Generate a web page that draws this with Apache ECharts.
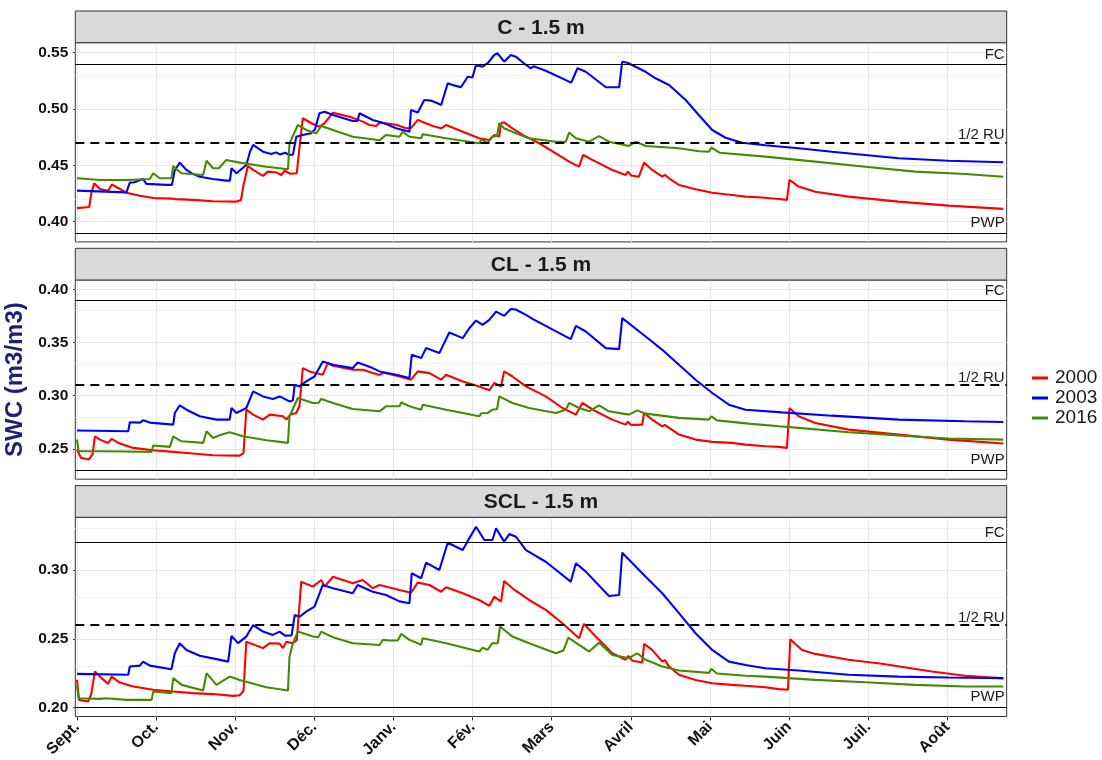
<!DOCTYPE html>
<html>
<head>
<meta charset="utf-8">
<script src="https://cdn.jsdelivr.net/npm/echarts@6/dist/echarts.min.js"></script>
<style>html,body{margin:0;padding:0;background:#fff}#c{width:1102px;height:760px}</style>
</head>
<body>
<div id="c"></div>
<script>
// ---------------- DATA ----------------
const panelTitles = ['C - 1.5 m', 'CL - 1.5 m', 'SCL - 1.5 m'];
const years = ['2000', '2003', '2016'];
const monthLabels = ['Sept.','Oct.','Nov.','Déc.','Janv.','Fév.','Mars','Avril','Mai','Juin','Juil.','Août'];
const monthDays = [0, 30.42, 60.83, 91.25, 121.67, 152.08, 182.5, 212.92, 243.33, 273.75, 304.17, 334.58];
const yMajorTicks = [[0.40,0.45,0.50,0.55],[0.25,0.30,0.35,0.40],[0.20,0.25,0.30]];
const yMinorTicks = [[0.425,0.475,0.525],[0.275,0.325,0.375],[0.225,0.275,0.325]];
const yRanges = [[0.382,0.5589],[0.2215,0.4087],[0.1935,0.3383]];
const FC  = [0.54, 0.39, 0.32];
const RU  = [0.465, 0.31, 0.26];
const PWP = [0.39, 0.23, 0.20];

const C_2000 = [[0,0.412],[4.7,0.413],[5.5,0.425],[6.6,0.434],[8.8,0.429],[12,0.4275],[13.4,0.433],[16.5,0.429],[19,0.4257],[24.2,0.423],[29.3,0.421],[36.3,0.4204],[37,0.4215],[38,0.42],[44.6,0.4193],[52.3,0.4181],[61.3,0.4178],[63,0.419],[64,0.432],[65.7,0.4494],[67.7,0.4459],[71.5,0.4406],[73.4,0.4444],[76.6,0.4437],[78.5,0.4414],[79.8,0.4452],[82,0.4425],[84.5,0.443],[85.5,0.465],[86.8,0.4918],[90.7,0.4867],[93.2,0.4843],[95,0.487],[98.4,0.4967],[104.8,0.4932],[109.9,0.4888],[112.4,0.4858],[115,0.4849],[116.3,0.4879],[122.7,0.486],[126.5,0.4829],[128.4,0.483],[131,0.4903],[136.7,0.485],[140,0.4829],[141.9,0.4858],[148.3,0.4799],[154.6,0.474],[158.5,0.4725],[160.4,0.477],[162.3,0.4755],[163,0.4873],[164.2,0.4882],[167.4,0.4829],[171.3,0.477],[177.7,0.4696],[184.1,0.4607],[189.2,0.4533],[193,0.4488],[194.6,0.4592],[199.4,0.4533],[205.8,0.4459],[210.9,0.4414],[211.8,0.4444],[213,0.441],[216,0.4399],[218,0.4524],[221.1,0.4459],[225,0.4399],[226,0.4415],[227.6,0.4385],[231.4,0.4326],[237.8,0.4287],[244.2,0.4257],[251.8,0.4237],[257,0.4222],[262.1,0.4217],[269.8,0.4201],[272.9,0.4193],[273.9,0.437],[277.4,0.4311],[283.8,0.4266],[296.6,0.4222],[315.8,0.4178],[335,0.4142],[356.1,0.4113]];
const C_2003 = [[0,0.4275],[19,0.426],[20.3,0.4346],[22,0.435],[25.4,0.4379],[26.7,0.4335],[34.4,0.4326],[36.5,0.4326],[37.5,0.445],[39.5,0.4524],[42.1,0.4459],[44,0.443],[47.2,0.4399],[52.3,0.4379],[57.4,0.4364],[58.8,0.4364],[59.4,0.4474],[61.3,0.443],[65.1,0.4503],[66.5,0.462],[67.7,0.4681],[71.5,0.4621],[74.7,0.4601],[76.5,0.4615],[78,0.4597],[80,0.4612],[81.7,0.4592],[83,0.4595],[84.3,0.4754],[86.8,0.477],[90,0.4785],[91.5,0.482],[93.2,0.4962],[95.2,0.4976],[98.4,0.4947],[106,0.4894],[107.8,0.4894],[108.6,0.4962],[113.7,0.4903],[117.5,0.4879],[122.7,0.4829],[127.8,0.4799],[128.4,0.4991],[131,0.497],[133.5,0.508],[136,0.5075],[138.6,0.5051],[140,0.5036],[142.5,0.5228],[145,0.521],[147.6,0.5193],[150.2,0.5287],[152,0.528],[153.4,0.5391],[155.9,0.5376],[158,0.541],[160.4,0.548],[161.7,0.5495],[164.2,0.542],[166.8,0.548],[168.7,0.5465],[172.6,0.5391],[174.5,0.5362],[175.5,0.538],[180.2,0.534],[189.2,0.5243],[190,0.5235],[192.4,0.5362],[195.6,0.5331],[203.3,0.5193],[208.4,0.5193],[209.6,0.542],[211.6,0.5411],[218.6,0.5331],[222.4,0.5273],[227.6,0.5213],[234,0.508],[239.1,0.4945],[244.2,0.4814],[249.3,0.4745],[255.7,0.4701],[264.6,0.4678],[277.4,0.4651],[290.2,0.4621],[303,0.4592],[315.8,0.4563],[335,0.4541],[356.1,0.4527]];
const C_2016 = [[0,0.4385],[9,0.437],[19,0.437],[28,0.4379],[29.3,0.443],[31.8,0.4385],[36.3,0.4385],[37,0.4494],[38.5,0.446],[40.2,0.443],[48.5,0.4414],[49.8,0.4541],[52.3,0.4474],[54.5,0.4474],[57.4,0.4548],[62.5,0.4524],[72.8,0.4488],[81.1,0.4465],[81.7,0.4696],[84.9,0.4858],[88.1,0.4814],[92,0.4785],[93.9,0.4849],[98.4,0.4814],[106,0.4754],[116.3,0.4722],[118.8,0.477],[124,0.4754],[125.2,0.4799],[127.8,0.4754],[132.3,0.474],[132.9,0.4776],[141.9,0.474],[154.6,0.4696],[155.5,0.473],[157.8,0.4696],[159.7,0.4754],[161.5,0.476],[162.3,0.4873],[164.2,0.4829],[168.7,0.4785],[173.8,0.474],[184.1,0.471],[187.9,0.471],[189.2,0.479],[191.8,0.474],[196.9,0.471],[200.7,0.476],[204.5,0.471],[212.2,0.4672],[214.8,0.471],[218.6,0.4672],[231.4,0.4651],[239.1,0.4625],[242.9,0.4621],[243.9,0.4657],[247,0.4612],[264.6,0.4577],[283.8,0.4533],[303,0.4488],[322.2,0.4444],[341.4,0.4423],[356.1,0.4399]];

const CL_2000 = [[0,0.2495],[1.5,0.2416],[4.5,0.24],[6,0.245],[6.9,0.2618],[8.8,0.2587],[12,0.2556],[13.3,0.2594],[16.5,0.255],[21.6,0.2509],[29.3,0.2487],[37,0.2472],[44.6,0.2456],[52.3,0.244],[62.5,0.2437],[64,0.246],[65.1,0.2868],[67.7,0.2822],[71.5,0.2775],[74.1,0.2822],[79.2,0.2806],[80.5,0.2775],[82,0.2822],[84.3,0.2837],[85.5,0.29],[86.8,0.3259],[89.4,0.3228],[94.5,0.3197],[96.4,0.3306],[98.4,0.3281],[106,0.3243],[109.9,0.3243],[113.7,0.3212],[116.3,0.3195],[118,0.3215],[124,0.318],[128.4,0.315],[131,0.3228],[135.5,0.3212],[140,0.315],[141.9,0.3197],[148.3,0.3134],[154.6,0.3087],[158.5,0.305],[160.4,0.3119],[163,0.3087],[164.2,0.3228],[167.4,0.318],[172.6,0.3087],[180.2,0.2993],[186.6,0.2884],[191.8,0.2822],[194.3,0.2931],[199.4,0.2853],[205.8,0.2775],[210.9,0.2728],[211.8,0.2755],[213,0.2725],[217.3,0.2728],[218,0.2837],[221.1,0.2775],[225,0.2712],[226,0.2725],[231.4,0.2634],[237.8,0.2587],[244.2,0.2566],[251.8,0.2556],[257,0.254],[264.6,0.2524],[269.8,0.2519],[272.9,0.2509],[273.9,0.2884],[277.4,0.2806],[283.8,0.2744],[296.6,0.2681],[315.8,0.2634],[335,0.2587],[356.1,0.255]];
const CL_2003 = [[0,0.2672],[19.7,0.2665],[20.3,0.275],[24.2,0.2747],[25.4,0.2768],[28,0.2747],[37,0.2728],[37.6,0.2837],[39.5,0.2909],[42.1,0.2868],[47.2,0.2806],[53.6,0.2775],[58.7,0.2775],[59.4,0.2884],[61.3,0.2837],[65.1,0.2884],[67.7,0.304],[71.5,0.2993],[75.3,0.2969],[77.9,0.2993],[81.7,0.2946],[83,0.2955],[83.7,0.3103],[85.6,0.3087],[88.1,0.3134],[91.3,0.318],[94.5,0.3321],[98.4,0.329],[106,0.3259],[107.9,0.3312],[113.7,0.3259],[116.3,0.3228],[122.7,0.3197],[127.8,0.3166],[128.7,0.3384],[132.3,0.3353],[134.2,0.3447],[139.3,0.34],[143.1,0.3593],[148.3,0.3541],[150.8,0.3634],[153.4,0.3706],[155.9,0.3665],[158.5,0.3712],[161.1,0.379],[164.2,0.375],[166.8,0.3815],[168.7,0.381],[172.6,0.3759],[175.1,0.3722],[180.2,0.3656],[189.8,0.3531],[191.8,0.3656],[195.6,0.3603],[203.3,0.3447],[208.4,0.3437],[209.6,0.3728],[218.6,0.3556],[225,0.3431],[231.4,0.329],[237.8,0.315],[244.2,0.3025],[250.6,0.2915],[257,0.2868],[271,0.2843],[290.2,0.2812],[315.8,0.2775],[341.4,0.2759],[356.1,0.2753]];
const CL_2016 = [[0,0.2587],[0.6,0.2478],[9,0.2478],[19,0.2475],[28.7,0.2472],[29.3,0.2531],[35.7,0.2519],[37,0.2618],[40.2,0.2571],[48.5,0.2556],[49.8,0.2665],[52.3,0.2603],[55,0.263],[58.7,0.2656],[63.8,0.2618],[72.8,0.2581],[81.1,0.2556],[81.7,0.2806],[84.9,0.2978],[90.7,0.2931],[92.8,0.2931],[93.9,0.2969],[98.4,0.2931],[106,0.2875],[116.3,0.2853],[118.8,0.29],[124,0.29],[124.6,0.2937],[127.8,0.29],[132.3,0.2868],[132.9,0.2915],[141.9,0.2868],[154.6,0.2806],[155.5,0.2835],[157.8,0.2837],[159.7,0.2868],[161.5,0.2875],[162.3,0.2993],[167.4,0.2931],[173.8,0.2884],[184.1,0.2837],[187.9,0.2868],[189.2,0.2931],[193,0.2884],[196.9,0.2853],[200.7,0.2909],[204.5,0.2853],[212.2,0.2822],[215.4,0.2862],[218.6,0.2831],[231.4,0.2791],[242.9,0.2775],[243.9,0.2806],[246,0.2768],[258.2,0.2737],[269.8,0.2712],[277.4,0.2697],[296.6,0.2656],[315.8,0.2625],[335,0.2597],[356.1,0.2587]];

const SCL_2000 = [[0,0.2201],[0.8,0.2056],[4.3,0.2044],[5.5,0.21],[6.9,0.2262],[8.8,0.2225],[12,0.2172],[13.3,0.2225],[16.5,0.2182],[21.6,0.2153],[29.3,0.2129],[37,0.2117],[44.6,0.2105],[52.3,0.2098],[60,0.2085],[62.5,0.209],[64,0.212],[65.1,0.2479],[71.5,0.2432],[74.1,0.2468],[77.9,0.2465],[79.2,0.2432],[80.5,0.2479],[83,0.2468],[84.5,0.249],[86.2,0.2915],[90.7,0.2879],[93.9,0.2927],[95.2,0.2879],[98.4,0.2951],[106,0.2903],[109.9,0.2927],[113.7,0.2867],[116.3,0.2891],[124,0.2855],[128.4,0.2835],[131,0.2908],[135.5,0.2891],[140,0.2842],[141.9,0.2874],[148.3,0.2831],[154.6,0.2782],[158.5,0.2739],[160.4,0.2806],[163,0.277],[164.2,0.292],[167.4,0.2867],[173.8,0.2782],[180.2,0.271],[186.6,0.2613],[193,0.2504],[194.9,0.2608],[199.4,0.2516],[205.8,0.2395],[210.9,0.2347],[212,0.2375],[213.5,0.234],[217.3,0.2327],[218,0.2463],[221.1,0.2419],[225,0.2334],[226,0.2345],[227.6,0.2298],[231.4,0.2238],[237.8,0.2201],[244.2,0.2177],[251.8,0.2165],[257,0.2158],[264.6,0.2148],[269.8,0.2134],[273.3,0.2129],[274.2,0.2497],[278.7,0.2419],[283.8,0.239],[296.6,0.2347],[309.4,0.2318],[328.6,0.2262],[341.4,0.2231],[356.1,0.2212]];
const SCL_2003 = [[0,0.2245],[19.7,0.2238],[20.3,0.2298],[24.2,0.2305],[25.4,0.2334],[28,0.2305],[36.3,0.2279],[37.6,0.2395],[39.5,0.2468],[42.1,0.2419],[47.2,0.2376],[53.6,0.2352],[58.1,0.2334],[59.4,0.2521],[61.9,0.2468],[65.1,0.2516],[67.7,0.26],[71.5,0.2552],[75.3,0.2528],[77.9,0.2552],[80,0.2523],[82.5,0.2525],[83.7,0.2673],[85.6,0.266],[88.1,0.2697],[91.3,0.2734],[94.5,0.2891],[98.4,0.2867],[106,0.2831],[107.9,0.2891],[113.7,0.2842],[118.8,0.2818],[124,0.2772],[127.8,0.2758],[128.7,0.2976],[132.3,0.294],[134.2,0.3053],[139.3,0.30],[142.5,0.3198],[148.3,0.3145],[150.8,0.323],[153.4,0.3314],[156.6,0.3218],[159.7,0.3218],[161.1,0.3303],[164.2,0.3206],[166.2,0.3261],[168.7,0.3242],[172.6,0.3145],[180.2,0.306],[189.8,0.2915],[191.8,0.3049],[195.6,0.2988],[204.5,0.2811],[208.4,0.2818],[209.6,0.3126],[218.6,0.2951],[225,0.2831],[231.4,0.2686],[237.8,0.254],[244.2,0.2419],[250.6,0.2334],[257,0.231],[264.6,0.2286],[277.4,0.2269],[296.6,0.2238],[315.8,0.2225],[335,0.2218],[356.1,0.2214]];
const SCL_2016 = [[0,0.216],[0.6,0.2068],[9,0.2063],[11,0.2068],[19,0.2056],[28.7,0.2056],[29.3,0.2117],[36.3,0.2105],[37,0.2214],[40.2,0.2165],[48.5,0.2124],[49.8,0.225],[53.6,0.2165],[58.7,0.2225],[62.5,0.2201],[72.8,0.2148],[81.1,0.2124],[81.7,0.237],[83,0.2468],[84.9,0.2552],[90.7,0.2516],[92.8,0.2512],[93.9,0.2552],[98.4,0.2511],[106,0.2468],[116.3,0.2455],[117.6,0.2492],[120.1,0.2487],[123.3,0.2487],[124.6,0.2535],[127.8,0.2492],[132.3,0.2456],[132.9,0.2504],[141.9,0.2468],[154.6,0.2407],[156,0.2435],[157.8,0.2419],[159.7,0.2468],[161.8,0.2468],[162.6,0.2589],[167.4,0.2516],[173.8,0.2468],[184.1,0.2395],[187,0.2415],[188.9,0.2508],[193,0.2456],[196.9,0.2407],[200.7,0.2472],[205.8,0.2383],[212.2,0.2359],[215.4,0.2395],[218.6,0.2347],[225,0.2298],[231.4,0.2269],[242.9,0.2252],[243.9,0.2281],[246,0.2248],[257,0.2231],[264.6,0.2225],[283.8,0.2201],[303,0.2184],[322.2,0.2165],[341.4,0.2153],[356.1,0.2153]];

const panelData = [[C_2000, C_2003, C_2016],[CL_2000, CL_2003, CL_2016],[SCL_2000, SCL_2003, SCL_2016]];
const yearColors = ['#ff0000', '#0000ff', '#458b00'];

// ---------------- LAYOUT ----------------
const FONT = 'Liberation Sans, Arial, Helvetica, sans-serif';
const plotLeft = 75.3, plotRight = 1006.7;
const gridTops = [42.7, 280, 517.3];
const gridH = 199.2;
const stripTops = [11, 248.3, 485.6];
const stripH = gridTops[0] - stripTops[0];
const xMin = -0.65, xMax = 357.4;

function nearestMonth(v){
  let best = 0, bd = Infinity;
  monthDays.forEach((d,i)=>{ const dd=Math.abs(d-v); if(dd<bd){bd=dd;best=i;} });
  return monthLabels[best];
}

const grids = [], xAxes = [], yAxes = [], series = [], graphics = [];
for (let p = 0; p < 3; p++) {
  grids.push({left: plotLeft, width: plotRight - plotLeft, top: gridTops[p], height: gridH,
    containLabel: false, outerBoundsMode: 'none',
    show: true, borderColor: '#333333', borderWidth: 1, backgroundColor: '#ffffff'});
  const last = p === 2;
  xAxes.push({type: 'value', gridIndex: p, min: xMin, max: xMax,
    axisLine: {show: false},
    axisTick: {show: last, customValues: monthDays, length: 4, lineStyle: {color: '#333333', width: 1}},
    axisLabel: {show: last, customValues: monthDays, rotate: 45, margin: 8, fontFamily: FONT,
      fontWeight: 'bold', fontSize: 16, color: '#111111', formatter: v => nearestMonth(v)},
    splitLine: {show: false}});
  const ya = {type: 'value', gridIndex: p, min: yRanges[p][0], max: yRanges[p][1],
    axisLine: {show: false},
    axisTick: {show: true, customValues: yMajorTicks[p], length: 4, lineStyle: {color: '#333333', width: 1}},
    axisLabel: {show: true, customValues: yMajorTicks[p], margin: 7, fontFamily: FONT,
      fontWeight: 'bold', fontSize: 15.5, color: '#111111', formatter: v => v.toFixed(2)},
    splitLine: {show: false}};
  if (p === 1) {
    ya.name = 'SWC (m3/m3)';
    ya.nameLocation = 'middle';
    ya.nameGap = 42;
    ya.nameTextStyle = {fontFamily: FONT, fontWeight: 'bold', fontSize: 24, color: '#1f1f78'};
  }
  yAxes.push(ya);

  // background grid lines
  const gl = [];
  yMajorTicks[p].forEach(v => gl.push({yAxis: v, lineStyle: {color: '#e6e6e6', width: 1.2, type: 'solid'}}));
  yMinorTicks[p].forEach(v => gl.push({yAxis: v, lineStyle: {color: '#efefef', width: 0.8, type: 'solid'}}));
  monthDays.forEach(d => gl.push({xAxis: d, lineStyle: {color: '#e6e6e6', width: 1.2, type: 'solid'}}));
  series.push({type: 'line', xAxisIndex: p, yAxisIndex: p, data: [], silent: true, z: 1,
    markLine: {silent: true, z: 1, symbol: ['none','none'], label: {show: false}, animation: false, data: gl}});

  // data lines
  for (let k = 0; k < 3; k++) {
    series.push({type: 'line', name: years[k], xAxisIndex: p, yAxisIndex: p, data: panelData[p][k],
      showSymbol: false, symbol: 'none', z: 2, color: yearColors[k],
      lineStyle: {width: 2.1, color: yearColors[k]}});
  }

  // reference lines
  const lab = (t, dy) => ({show: true, position: 'insideEndTop', formatter: t, fontFamily: FONT,
    fontSize: 15, color: '#1a1a1a', distance: [2, dy]});
  series.push({type: 'line', xAxisIndex: p, yAxisIndex: p, data: [], silent: true, z: 3,
    markLine: {silent: true, z: 3, symbol: ['none','none'], animation: false, data: [
      {yAxis: FC[p], lineStyle: {color: '#000000', width: 1, type: 'solid'}, label: lab('FC', 2)},
      {yAxis: RU[p], lineStyle: {color: '#000000', width: 2, type: [9, 6]}, label: lab('1/2 RU', 0)},
      {yAxis: PWP[p], lineStyle: {color: '#000000', width: 1, type: 'solid'}, label: lab('PWP', 3)}
    ]}});

  // facet strip
  graphics.push({type: 'rect', shape: {x: plotLeft, y: stripTops[p], width: plotRight - plotLeft, height: stripH},
    style: {fill: '#d9d9d9', stroke: '#333333', lineWidth: 1}, z: 10});
  graphics.push({type: 'text', x: (plotLeft + plotRight) / 2, y: stripTops[p] + stripH / 2 + 1, z: 11,
    style: {text: panelTitles[p], fontFamily: FONT, fontWeight: 'bold', fontSize: 21, fill: '#1a1a1a',
      align: 'center', verticalAlign: 'middle'}});
}

const chart = echarts.init(document.getElementById('c'), null, {renderer: 'canvas'});
chart.setOption({
  animation: false,
  backgroundColor: '#ffffff',
  textStyle: {fontFamily: FONT},
  grid: grids,
  xAxis: xAxes,
  yAxis: yAxes,
  legend: {orient: 'vertical', left: 1027, top: 363, itemWidth: 16, itemHeight: 3, itemGap: 0,
    icon: 'rect', data: years, selectedMode: false,
    textStyle: {fontFamily: FONT, fontSize: 19, color: '#1a1a1a', lineHeight: 20, padding: [0, 0, 0, 2]}},
  series: series,
  graphic: graphics
});
</script>
</body>
</html>
